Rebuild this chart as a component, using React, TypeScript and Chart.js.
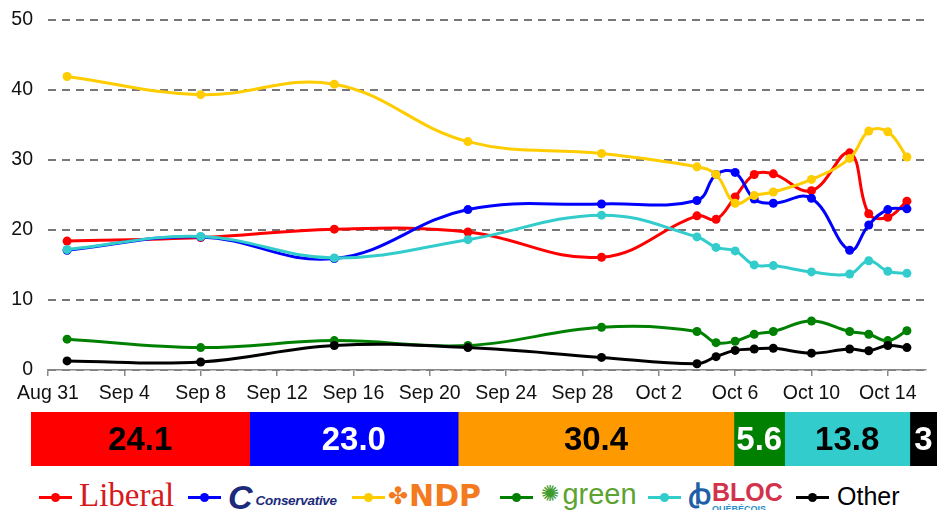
import React, { useEffect, useRef } from "react";
import { Chart, registerables } from "chart.js";

Chart.register(...registerables);

// ---- data ----
// poll days counted from Aug 31 (day 0)
const pollDays = [1, 8, 15, 22, 29, 34, 35, 36, 37, 38, 40, 42, 43, 44, 45];
const liberal = [18.4, 18.9, 20.1, 19.7, 16.1, 22.0, 21.5, 24.7, 27.9, 28.0, 25.6, 31.0, 22.3, 21.8, 24.1];
const conservative = [17.1, 19.0, 15.9, 22.9, 23.7, 24.2, 27.9, 28.2, 24.4, 23.8, 24.5, 17.1, 20.7, 22.9, 23.0];
const ndp = [41.9, 39.3, 40.8, 32.6, 30.9, 29.0, 27.9, 23.8, 24.9, 25.4, 27.2, 30.2, 34.1, 34.0, 30.4];
const green = [4.4, 3.2, 4.2, 3.5, 6.1, 5.5, 3.9, 4.1, 5.1, 5.5, 7.0, 5.5, 5.1, 4.2, 5.6];
const bloc = [17.2, 19.05, 16.0, 18.6, 22.1, 19.0, 17.5, 17.0, 15.0, 14.9, 14.0, 13.7, 15.6, 14.1, 13.8];
const other = [1.3, 1.15, 3.5, 3.2, 1.8, 0.9, 1.9, 2.8, 3.0, 3.1, 2.4, 3.0, 2.75, 3.5, 3.2];

const tickDays = [0, 4, 8, 12, 16, 20, 24, 28, 32, 36, 40, 44];
const tickLabels = ["Aug 31", "Sep 4", "Sep 8", "Sep 12", "Sep 16", "Sep 20", "Sep 24", "Sep 28", "Oct 2", "Oct 6", "Oct 10", "Oct 14"];

const parties = ["Liberal", "Conservative", "NDP", "Green", "Bloc", "Other"];
const lineColors = ["#FF0000", "#0000FF", "#FFCC00", "#008000", "#33CCCC", "#000000"];
const barValues = [24.1, 23.0, 30.4, 5.6, 13.8, 3.0];
const barLabels = ["24.1", "23.0", "30.4", "5.6", "13.8", "3"];
const barColors = ["#FF0000", "#0000FF", "#FF9900", "#008000", "#33CCCC", "#000000"];
const barTextColors = ["#000000", "#FFFFFF", "#000000", "#FFFFFF", "#000000", "#FFFFFF"];

const FONT = '"Liberation Sans", Arial, Helvetica, sans-serif';

const barLabelPlugin = {
  id: "barLabels",
  afterDatasetsDraw(chart: any) {
    const ctx = chart.ctx;
    chart.data.datasets.forEach((_ds: any, i: number) => {
      const meta = chart.getDatasetMeta(i);
      const el = meta.data[0];
      if (!el) return;
      const p = el.getProps(["x", "y", "base"], true);
      const cx = (p.x + p.base) / 2;
      ctx.save();
      ctx.font = `bold 33px ${FONT}`;
      ctx.fillStyle = barTextColors[i];
      ctx.textAlign = "center";
      ctx.textBaseline = "middle";
      ctx.fillText(barLabels[i], cx, p.y + 2);
      ctx.restore();
    });
  },
};

function Marker({ color, left }: { color: string; left: number }) {
  return (
    <div style={{ position: "absolute", left, top: 492, width: 33, height: 10 }}>
      <div style={{ position: "absolute", left: 0, top: 3.5, width: 33, height: 3, background: color }} />
      <div style={{ position: "absolute", left: 12, top: 0.5, width: 9, height: 9, borderRadius: "50%", background: color }} />
    </div>
  );
}

export default function App() {
  const lineRef = useRef<HTMLCanvasElement>(null);
  const barRef = useRef<HTMLCanvasElement>(null);

  useEffect(() => {
    const series = [liberal, conservative, ndp, green, bloc, other];
    const drawOrder = [6, 5, 4, 3, 2, 1];
    const lineChart = new Chart(lineRef.current!, {
      type: "line",
      data: {
        datasets: series.map((vals, i) => ({
          label: parties[i],
          data: vals.map((v, j) => ({ x: pollDays[j], y: v })),
          borderColor: lineColors[i],
          backgroundColor: lineColors[i],
          borderWidth: 3,
          pointRadius: 4.5,
          pointBorderWidth: 0,
          tension: 0.4,
          order: drawOrder[i],
          fill: false,
        })),
      },
      options: {
        animation: false,
        responsive: false,
        maintainAspectRatio: false,
        layout: { padding: { top: 13, right: 14, left: 0, bottom: 0 } },
        plugins: { legend: { display: false }, tooltip: { enabled: false }, title: { display: false } },
        scales: {
          x: {
            type: "linear",
            min: 0,
            max: 46,
            afterBuildTicks: (s: any) => {
              s.ticks = tickDays.map((v) => ({ value: v }));
            },
            afterFit: (s: any) => {
              s.height = 40;
            },
            ticks: {
              autoSkip: false,
              maxRotation: 0,
              padding: 6,
              color: "#111",
              font: { family: FONT, size: 19.5 },
              callback: (v: any) => {
                const idx = tickDays.indexOf(Number(v));
                return idx >= 0 ? tickLabels[idx] : "";
              },
            },
            grid: { drawOnChartArea: false, drawTicks: true, tickLength: 6, color: "#888", lineWidth: 1.5 },
            border: { display: true, color: "#888", width: 1.5 },
          },
          y: {
            min: 0,
            max: 50,
            afterFit: (s: any) => {
              s.width = 48;
            },
            ticks: { stepSize: 10, padding: 15, color: "#111", font: { family: FONT, size: 19.5 } },
            grid: { drawTicks: false, color: "#777", lineWidth: 2 },
            border: { display: false, dash: [8, 6] },
          },
        },
      },
    } as any);

    const total = barValues.reduce((a, b) => a + b, 0);
    const barChart = new Chart(barRef.current!, {
      type: "bar",
      data: {
        labels: [""],
        datasets: barValues.map((v, i) => ({
          label: parties[i],
          data: [v],
          backgroundColor: barColors[i],
          borderWidth: 0,
          barPercentage: 1,
          categoryPercentage: 1,
        })),
      },
      options: {
        indexAxis: "y",
        animation: false,
        responsive: false,
        maintainAspectRatio: false,
        layout: { padding: { left: 31, right: 3, top: 4, bottom: 4 } },
        plugins: { legend: { display: false }, tooltip: { enabled: false } },
        scales: {
          x: { stacked: true, display: false, min: 0, max: total },
          y: { stacked: true, display: false },
        },
      },
      plugins: [barLabelPlugin],
    } as any);

    return () => {
      lineChart.destroy();
      barChart.destroy();
    };
  }, []);

  return (
    <div style={{ position: "fixed", left: 0, top: 0, width: 940, height: 510, background: "#fff", overflow: "hidden", fontFamily: FONT }}>
      <canvas ref={lineRef} width={940} height={417} style={{ position: "absolute", left: 0, top: -7, width: 940, height: 417 }} />
      <canvas ref={barRef} width={940} height={62} style={{ position: "absolute", left: 0, top: 408, width: 940, height: 62 }} />

      {/* legend */}
      <Marker color={lineColors[0]} left={39} />
      <div style={{ position: "absolute", left: 79, top: 475, color: "#D71920", fontFamily: '"Liberation Serif", "DejaVu Serif", serif', fontSize: 33, lineHeight: "40px" }}>
        Liberal
      </div>

      <Marker color={lineColors[1]} left={188} />
      <div style={{ position: "absolute", left: 228, top: 480, display: "flex", alignItems: "center", color: "#1B2A7A" }}>
        <span style={{ fontFamily: FONT, fontWeight: "bold", fontStyle: "italic", fontSize: 34, lineHeight: "34px" }}>C</span>
        <span style={{ fontFamily: FONT, fontWeight: "bold", fontStyle: "italic", fontSize: 13.5, letterSpacing: -0.3, marginLeft: 3, marginTop: 6 }}>Conservative</span>
      </div>

      <Marker color={lineColors[2]} left={352} />
      <div style={{ position: "absolute", left: 388, top: 479, display: "flex", alignItems: "center", color: "#F37A1F" }}>
        <span style={{ fontFamily: '"DejaVu Sans", sans-serif', fontSize: 24, lineHeight: "34px", fontWeight: "bold" }}>✤</span>
        <span style={{ fontFamily: '"DejaVu Sans", sans-serif', fontSize: 30, fontWeight: "bold", lineHeight: "34px", marginLeft: 1 }}>NDP</span>
      </div>

      <Marker color={lineColors[3]} left={500} />
      <div style={{ position: "absolute", left: 541, top: 479, display: "flex", alignItems: "flex-start", color: "#5DA331" }}>
        <span style={{ fontFamily: '"DejaVu Sans", sans-serif', fontSize: 22, lineHeight: "30px", color: "#3F9A2E" }}>✺</span>
        <div style={{ marginLeft: 3, position: "relative" }}>
          <div style={{ fontFamily: FONT, fontSize: 29, lineHeight: "30px" }}>green</div>
          <div style={{ fontFamily: FONT, fontSize: 6, lineHeight: "6px", color: "#777", textAlign: "right" }}>party of canada</div>
        </div>
      </div>

      <Marker color={lineColors[4]} left={648} />
      <div style={{ position: "absolute", left: 688, top: 480, display: "flex", alignItems: "flex-start" }}>
        <span style={{ fontFamily: FONT, fontWeight: "bold", fontSize: 28, lineHeight: "30px", color: "#1F5FA8" }}>ꞗ</span>
        <div style={{ marginLeft: 1 }}>
          <div style={{ fontFamily: FONT, fontWeight: "bold", fontSize: 25, lineHeight: "24px", color: "#D2334A" }}>BLOC</div>
          <div style={{ fontFamily: FONT, fontWeight: "bold", fontSize: 9, lineHeight: "10px", color: "#2C8FC9" }}>QUÉBÉCOIS</div>
        </div>
      </div>

      <Marker color={lineColors[5]} left={796} />
      <div style={{ position: "absolute", left: 837, top: 481, fontFamily: FONT, fontSize: 25, lineHeight: "30px", color: "#000" }}>Other</div>
    </div>
  );
}
